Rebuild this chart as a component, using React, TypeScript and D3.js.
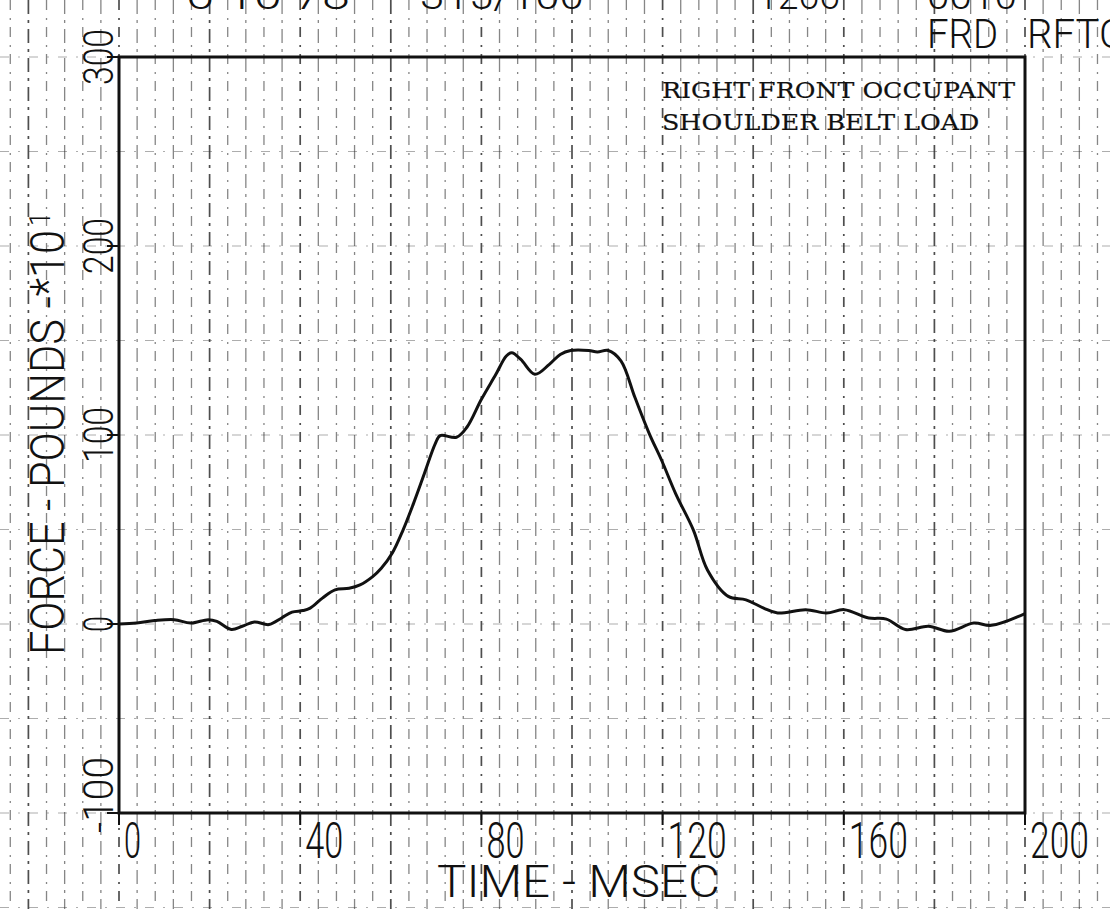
import React from "react";
import * as d3 from "d3";

// ---- data ----
const timeMs = [
  0, 3.9, 7.9, 12.2, 15.8, 19.7, 21.6, 24.8, 27.2, 29.9, 33.1, 35.9, 38.2, 40.6, 42.2, 44.9,
  47.7, 50.8, 53.2, 56.0, 57.9, 60.3, 62.7, 65.0, 67.4, 69.8, 70.9, 74.5, 76.8, 80.0, 83.2,
  85.5, 86.7, 88.7, 91.8, 95.0, 97.4, 99.7, 103.7, 105.6, 108.0, 110.8, 113.9, 117.1, 119.8,
  122.9, 126.8, 129.9, 134.5, 138.4, 142.3, 145.4, 151.6, 156.2, 160.1, 165.5, 169.4, 173.6,
  178.7, 183.3, 188.7, 192.6, 200,
];
const forceValues = [
  0, 0.5, 1.8, 2.3, 0.5, 2.3, 1.4, -2.9, -1.2, 1.1, -0.3, 3.2, 6.3, 7.1, 8.4, 13.7,
  18.1, 18.9, 20.7, 25.1, 29.5, 37.4, 49.7, 63.7, 79.5, 95.3, 99.7, 98.8, 104.1, 118.9, 132.1,
  141.8, 143.5, 140.0, 132.1, 137.4, 142.6, 144.7, 144.7, 143.9, 144.7, 139.2, 119.8, 100.5, 86.5,
  68.9, 49.7, 28.6, 14.6, 12.8, 8.4, 5.8, 7.6, 5.8, 7.6, 3.2, 2.6, -2.9,
  -1.2, -3.8, 0.5, -0.7, 5.5,
];
const xTicks = [0, 40, 80, 120, 160, 200];
const yTicks = [-100, 0, 100, 200, 300];
const xTitle = "TIME - MSEC";
const yTitle = "FORCE - POUNDS  -*10";
const yTitleExponent = "1";
const annotationLines = ["RIGHT FRONT OCCUPANT", "SHOULDER BELT LOAD"];
const headerLine1 = ["6 10 78", "315/100", "1266", "0010"];
const headerLine2 = ["FRD", "RFTC"];

// ---- layout ----
const W = 1110;
const H = 909;
const PLOT = { left: 119, right: 1025, top: 57, bottom: 813 };
const header1X = [186, 420, 757, 927];
const header1W = [164, 164, 83, 90];
const header2X = [927, 1027];
const header2W = [71, 98];

const PLOTTER_FONT = "Roboto, 'Open Sans', 'DejaVu Sans', sans-serif";
const INK = "#111";

export default function App() {
  const x = d3.scaleLinear().domain([0, 200]).range([PLOT.left, PLOT.right]);
  const y = d3.scaleLinear().domain([-100, 300]).range([PLOT.bottom, PLOT.top]);

  const pts: [number, number][] = timeMs.map((t, i) => [t, forceValues[i]]);
  const line = d3
    .line<[number, number]>()
    .x((d) => x(d[0]))
    .y((d) => y(d[1]))
    .curve(d3.curveCatmullRom.alpha(0.5));

  // graph paper grid (every 4 ms, every 50 units) across the whole sheet
  const vGrid = d3.range(-28, 224, 4);
  const hGrid = d3.range(-150, 351, 50);

  return (
    <svg
      width={W}
      height={H}
      viewBox={`0 0 ${W} ${H}`}
      style={{ position: "absolute", left: 0, top: 0, background: "#fff" }}
    >
      <rect x={0} y={0} width={W} height={H} fill="#fff" />
      {/* paper grid */}
      <g>
        {vGrid.map((t, i) => (
          <line
            key={"v" + t}
            x1={x(t)}
            x2={x(t)}
            y1={0}
            y2={H}
            stroke="#222"
            strokeOpacity={t % 20 === 0 ? 0.8 : 0.55}
            strokeWidth={t % 20 === 0 ? 1.7 : 1.3}
            strokeDasharray={i % 2 === 0 ? "14 6 3 6" : "10 8 2 7"}
          />
        ))}
        {hGrid.map((v) => (
          <line
            key={"h" + v}
            x1={0}
            x2={W}
            y1={y(v)}
            y2={y(v)}
            stroke="#333"
            strokeOpacity={0.4}
            strokeWidth={1.2}
            strokeDasharray="9 9 2 9"
          />
        ))}
      </g>

      {/* frame */}
      <rect
        x={x(0)}
        y={y(300)}
        width={x(200) - x(0)}
        height={y(-100) - y(300)}
        fill="none"
        stroke={INK}
        strokeWidth={3}
      />
      {/* ticks */}
      {xTicks.map((t) => (
        <line key={"xt" + t} x1={x(t)} x2={x(t)} y1={y(-100)} y2={y(-100) + 12} stroke={INK} strokeWidth={2} />
      ))}
      {yTicks.map((v) => (
        <line key={"yt" + v} x1={x(0) - 12} x2={x(0)} y1={y(v)} y2={y(v)} stroke={INK} strokeWidth={2} />
      ))}

      {/* curve */}
      <path d={line(pts) || ""} fill="none" stroke={INK} strokeWidth={3} strokeLinejoin="round" />

      {/* x tick labels */}
      {xTicks.map((t) => {
        const s = String(t);
        return (
          <text
            key={"xl" + t}
            x={x(t) + 5}
            y={y(-100) + 45}
            fontFamily={PLOTTER_FONT}
            fontWeight={300}
            fontSize={50}
            fill={INK}
            textLength={s.length * 21 - 4}
            lengthAdjust="spacingAndGlyphs"
          >
            {s}
          </text>
        );
      })}
      {/* x title */}
      <text
        x={437}
        y={897}
        fontFamily={PLOTTER_FONT}
        fontWeight={300}
        fontSize={44}
        fill={INK}
        textLength={283}
        lengthAdjust="spacingAndGlyphs"
      >
        {xTitle}
      </text>

      {/* y tick labels (rotated) */}
      {yTicks.map((v, i) => {
        const s = String(v);
        const isLowest = i === 0;
        const cy = isLowest ? y(v) + 20 : y(v);
        return (
          <text
            key={"yl" + v}
            transform={`translate(113, ${cy}) rotate(-90)`}
            textAnchor={isLowest ? "start" : "middle"}
            fontFamily={PLOTTER_FONT}
            fontWeight={300}
            fontSize={42}
            fill={INK}
            textLength={s.length * 20 - 4}
            lengthAdjust="spacingAndGlyphs"
          >
            {s}
          </text>
        );
      })}
      {/* y title */}
      <text
        transform={`translate(64, 655) rotate(-90)`}
        fontFamily={PLOTTER_FONT}
        fontWeight={300}
        fontSize={48}
        fill={INK}
        textLength={425}
        lengthAdjust="spacingAndGlyphs"
      >
        {yTitle}
      </text>
      <text
        transform={`translate(50, 226) rotate(-90)`}
        fontFamily={PLOTTER_FONT}
        fontWeight={300}
        fontSize={30}
        fill={INK}
        textLength={14}
        lengthAdjust="spacingAndGlyphs"
      >
        {yTitleExponent}
      </text>

      {/* header (cut off at top of sheet) */}
      {headerLine1.map((s, i) => (
        <text
          key={"h1" + i}
          x={header1X[i]}
          y={9}
          fontFamily={PLOTTER_FONT}
          fontWeight={300}
          fontSize={39}
          fill={INK}
          textLength={header1W[i]}
          lengthAdjust="spacingAndGlyphs"
        >
          {s}
        </text>
      ))}
      {headerLine2.map((s, i) => (
        <text
          key={"h2" + i}
          x={header2X[i]}
          y={48}
          fontFamily={PLOTTER_FONT}
          fontWeight={300}
          fontSize={40}
          fill={INK}
          textLength={header2W[i]}
          lengthAdjust="spacingAndGlyphs"
        >
          {s}
        </text>
      ))}

      {/* annotation */}
      {annotationLines.map((s, i) => (
        <text
          key={"an" + i}
          x={662}
          y={98 + i * 32}
          fontFamily="'DejaVu Serif', 'Liberation Serif', serif"
          fontSize={23}
          fill={INK}
          stroke={INK}
          strokeWidth={0.2}
          textLength={s.length * 17.8 - 3}
          lengthAdjust="spacingAndGlyphs"
        >
          {s}
        </text>
      ))}
    </svg>
  );
}
